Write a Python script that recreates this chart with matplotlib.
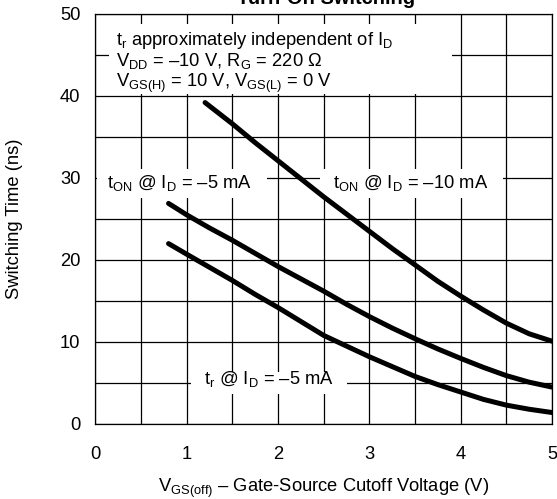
import matplotlib
matplotlib.use('Agg')
import matplotlib.pyplot as plt
from matplotlib.patches import Rectangle
from matplotlib.ticker import MultipleLocator

plt.rcParams['font.family'] = ['Liberation Sans', 'DejaVu Sans']
plt.rcParams['mathtext.fontset'] = 'custom'
plt.rcParams['mathtext.rm'] = 'Liberation Sans'
plt.rcParams['mathtext.it'] = 'Liberation Sans:italic'
plt.rcParams['mathtext.bf'] = 'Liberation Sans:bold'

# curves
vgs_5mA = [0.8, 1.0, 1.25, 1.5, 1.75, 2.0, 2.25, 2.5, 2.75, 3.0, 3.25, 3.5,
           3.75, 4.0, 4.25, 4.5, 4.75, 5.0]
ton_5mA = [26.9, 25.5, 23.9, 22.4, 20.8, 19.2, 17.7, 16.2, 14.6, 13.1, 11.7,
           10.4, 9.15, 8.0, 6.9, 5.9, 5.1, 4.5]
tr_5mA = [22.0, 20.7, 19.1, 17.5, 15.8, 14.2, 12.5, 10.8, 9.5, 8.2, 7.0, 5.8,
          4.8, 3.9, 3.0, 2.3, 1.8, 1.4]
vgs_10mA = [1.2, 1.5, 1.75, 2.0, 2.25, 2.5, 2.75, 3.0, 3.25, 3.5, 3.75, 4.0,
            4.25, 4.5, 4.75, 5.0]
ton_10mA = [39.2, 36.6, 34.3, 32.1, 29.9, 27.7, 25.6, 23.5, 21.4, 19.4, 17.4,
            15.6, 13.9, 12.3, 11.0, 10.1]

x_ticks = [0, 1, 2, 3, 4, 5]
y_ticks = [0, 10, 20, 30, 40, 50]

W, H = 557, 499
fig = plt.figure(figsize=(W / 100, H / 100), dpi=100)
ax = fig.add_axes([95.5 / W, 1 - 424 / H, (552 - 95.5) / W, (424 - 14) / H])

fs = 13.2
for x, y in [(vgs_5mA, ton_5mA), (vgs_5mA, tr_5mA), (vgs_10mA, ton_10mA)]:
    ax.plot(x, y, color='black', lw=3.6, solid_capstyle='round',
            solid_joinstyle='round', zorder=4)

ax.set_xlim(0, 5)
ax.set_ylim(0, 50)
ax.set_xticks(x_ticks)
ax.set_yticks(y_ticks)
ax.xaxis.set_minor_locator(MultipleLocator(0.5))
ax.yaxis.set_minor_locator(MultipleLocator(5))
ax.grid(True, which='both', color='black', lw=0.9)
ax.set_axisbelow(True)
ax.tick_params(which='both', length=0, labelsize=fs)
ax.tick_params(axis='x', pad=16)
ax.tick_params(axis='y', pad=11)
for s in ax.spines.values():
    s.set_linewidth(0.9)

# white masks behind the labels (label layout, not data)
masks = [(0.15, 40.3, 3.75, 8.5), (0.02, 27.5, 1.86, 3.6),
         (2.46, 27.5, 2.0, 3.6), (1.05, 3.6, 1.7, 2.8)]
for x0, y0, w, h in masks:
    ax.add_patch(Rectangle((x0, y0), w, h, facecolor='white', edgecolor='none', zorder=2))

ax.text(0.23, 46.2, r'$\mathregular{t_r}$ approximately independent of $\mathregular{I_D}$',
        fontsize=fs, va='baseline', zorder=5)
ax.text(0.23, 43.6, r'$\mathregular{V_{DD}}$ = –10 V, $\mathregular{R_G}$ = 220 Ω',
        fontsize=fs, va='baseline', zorder=5)
ax.text(0.23, 41.1, r'$\mathregular{V_{GS(H)}}$ = 10 V, $\mathregular{V_{GS(L)}}$ = 0 V',
        fontsize=fs, va='baseline', zorder=5)
ax.text(0.125, 28.8, r'$\mathregular{t_{ON}}$ @ $\mathregular{I_D}$ = –5 mA',
        fontsize=fs, va='baseline', zorder=5)
ax.text(2.6, 28.8, r'$\mathregular{t_{ON}}$ @ $\mathregular{I_D}$ = –10 mA',
        fontsize=fs, va='baseline', zorder=5)
ax.text(1.19, 4.9, r'$\mathregular{t_r}$ @ $\mathregular{I_D}$ = –5 mA',
        fontsize=fs, va='baseline', zorder=5)

fig.text(326 / W, 1 - 4 / H, 'Turn-On Switching', fontsize=14.5, weight='bold',
         ha='center', va='baseline')
fig.text(324 / W, 1 - 488 / H,
         r'$\mathregular{V_{GS(off)}}$ – Gate-Source Cutoff Voltage (V)',
         fontsize=fs, ha='center', va='center')
fig.text(15 / W, 1 - 219 / H, 'Switching Time (ns)', fontsize=fs,
         rotation=90, ha='center', va='center')

fig.savefig('out.png', dpi=100, facecolor='white')
